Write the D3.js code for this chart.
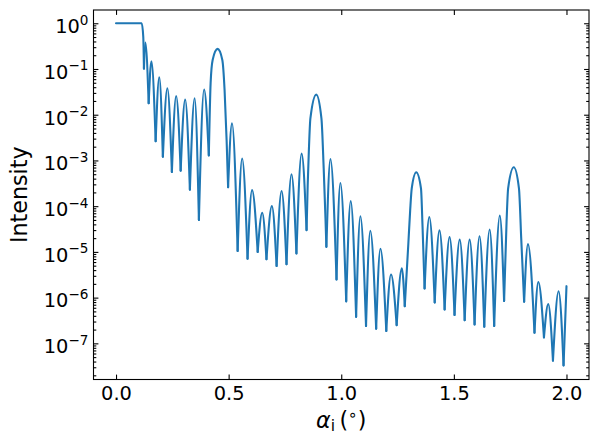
<!DOCTYPE html>
<html>
<head>
<meta charset="utf-8">
<script src="https://cdn.jsdelivr.net/npm/d3@7"></script>
<style>
  body { margin: 0; background: #fff; }
  text { font-family: "DejaVu Sans", sans-serif; fill: #000; }
</style>
</head>
<body>
<svg id="chart"></svg>
<script>
let w = 598;
let h = 444;

// incidence angle (deg) and reflected intensity
let alpha = [
  0.000, 0.114, 0.121, 0.124, 0.130, 0.145, 0.157, 0.176, 0.192, 0.208,
  0.228, 0.248, 0.267, 0.287, 0.307, 0.328, 0.349, 0.368, 0.391, 0.412,
  0.420, 0.429, 0.451, 0.472, 0.482, 0.491, 0.4976, 0.515, 0.540, 0.560,
  0.584, 0.604, 0.629, 0.649, 0.668, 0.692, 0.713, 0.735, 0.757, 0.779,
  0.801, 0.824, 0.846, 0.851, 0.856, 0.863, 0.889, 0.912, 0.922, 0.930,
  0.934, 0.952, 0.979, 0.996, 1.022, 1.042, 1.066, 1.085, 1.110, 1.129,
  1.155, 1.174, 1.200, 1.221, 1.246, 1.269, 1.282, 1.298, 1.306, 1.313,
  1.333, 1.354, 1.361, 1.370, 1.391, 1.415, 1.436, 1.459, 1.481, 1.503,
  1.526, 1.548, 1.570, 1.592, 1.614, 1.635, 1.659, 1.679, 1.704, 1.723,
  1.734, 1.741, 1.766, 1.789, 1.799, 1.812, 1.829, 1.858, 1.875, 1.900,
  1.919, 1.940, 1.965, 1.987, 2.000
];
let intensity = [
  1, 1, 0.5, 0.102, 0.38, 0.0178, 0.148, 0.00263, 0.066, 0.0012,
  0.038, 5.6e-4, 0.0257, 6.0e-4, 0.0214, 2.3e-4, 0.0229, 5.0e-5, 0.0355, 1.29e-3,
  0.049, 0.158, 0.275, 0.158, 0.0347, 2.8e-3, 2.6e-4, 6.5e-3, 1.05e-5, 1.1e-3,
  7.1e-6, 2.24e-4, 1.0e-5, 7.2e-5, 6.9e-6, 1.0e-4, 4.9e-6, 2.14e-4, 5.4e-6, 5.0e-4,
  9.3e-6, 1.41e-3, 3.0e-5, 2.9e-4, 1.55e-3, 8.3e-3, 0.0275, 8.3e-3, 6.8e-4, 5.4e-5,
  1.29e-5, 1.07e-3, 2.5e-6, 3.2e-4, 8.3e-7, 1.29e-4, 3.8e-7, 6.0e-5, 2.4e-7, 2.9e-5,
  2.1e-7, 1.17e-5, 1.86e-7, 3.2e-6, 2.5e-7, 4.4e-6, 6.5e-7, 1.55e-5, 8.1e-5, 2.45e-4,
  5.5e-4, 2.45e-4, 3.5e-5, 1.58e-6, 5.8e-5, 7.8e-7, 2.95e-5, 5.5e-7, 2.1e-5, 4.2e-7,
  1.86e-5, 3.2e-7, 1.86e-5, 2.6e-7, 2.2e-5, 2.3e-7, 3.1e-5, 2.4e-7, 6.2e-5, 8.5e-7,
  4.6e-5, 2.45e-4, 7.1e-4, 2.45e-4, 2.0e-5, 8.1e-7, 1.48e-5, 1.7e-7, 2.2e-6, 1.35e-7,
  7.2e-7, 4.2e-8, 1.38e-6, 3.3e-8, 1.78e-6
];

let xTicks = [0, 0.5, 1.0, 1.5, 2.0];
let yTicks = [1, 1e-1, 1e-2, 1e-3, 1e-4, 1e-5, 1e-6, 1e-7];

let mLeft = 93.5, mRight = 589, mTop = 10, mBottom = 379.5;
let tickFont = 19.4, labelFont = 22.2;

let svg = d3.select("#chart").attr("width", w).attr("height", h);

let xScale = d3.scaleLinear().domain([-0.1, 2.1]).range([mLeft, mRight]);
let yScale = d3.scaleLog().domain([1.62e-8, 1.95]).range([mBottom, mTop]);

// minor ticks 2..9 in every decade inside the view
let yMinor = [];
for (let e = -8; e <= 0; e++) {
  for (let m = 2; m <= 9; m++) {
    let v = m * Math.pow(10, e);
    if (v > yScale.domain()[0] && v < yScale.domain()[1]) yMinor.push(v);
  }
}

function styleAxis(sel) {
  sel.select(".domain").remove();
  sel.selectAll(".tick line").attr("stroke", "#000").attr("stroke-width", 1.1);
  sel.attr("font-size", tickFont).attr("font-family", "DejaVu Sans");
}

// bottom / top
svg.append("g")
  .attr("transform", "translate(0," + mBottom + ")")
  .call(d3.axisBottom(xScale).tickValues(xTicks).tickSize(-4.9).tickPadding(6.5)
    .tickFormat(d3.format(".1f")))
  .call(styleAxis);

svg.append("g")
  .attr("transform", "translate(0," + mTop + ")")
  .call(d3.axisTop(xScale).tickValues(xTicks).tickSize(-4.9).tickFormat(""))
  .call(styleAxis);

// left major with 10^n labels
let yAxisLeft = svg.append("g")
  .attr("transform", "translate(" + mLeft + ",0)")
  .call(d3.axisLeft(yScale).tickValues(yTicks).tickSize(-4.9).tickPadding(5)
    .tickFormat(""))
  .call(styleAxis);

yAxisLeft.selectAll(".tick text").each(function (d) {
  let t = d3.select(this);
  let ex = Math.round(Math.log10(d));
  t.attr("dy", "0.48em");
  t.append("tspan").text("10");
  t.append("tspan")
    .attr("dy", "-0.62em")
    .attr("font-size", "0.7em")
    .text(ex < 0 ? "\u2212" + (-ex) : String(ex));
});

svg.append("g")
  .attr("transform", "translate(" + mLeft + ",0)")
  .call(d3.axisLeft(yScale).tickValues(yMinor).tickSize(-2.8).tickFormat(""))
  .call(styleAxis);

svg.append("g")
  .attr("transform", "translate(" + mRight + ",0)")
  .call(d3.axisRight(yScale).tickValues(yTicks).tickSize(-4.9).tickFormat(""))
  .call(styleAxis);

svg.append("g")
  .attr("transform", "translate(" + mRight + ",0)")
  .call(d3.axisRight(yScale).tickValues(yMinor).tickSize(-2.8).tickFormat(""))
  .call(styleAxis);

// curve: each fringe drawn trough-to-trough so the minima stay sharp
let pts = alpha.map(function (a, i) { return [a, intensity[i]]; });
let cuts = [0];
for (let i = 1; i < pts.length - 1; i++) {
  if (pts[i][1] < pts[i - 1][1] && pts[i][1] < pts[i + 1][1]) cuts.push(i);
}
cuts.push(pts.length - 1);
let arcs = [];
for (let k = 0; k < cuts.length - 1; k++) {
  arcs.push(pts.slice(cuts[k], cuts[k + 1] + 1));
}

let line = d3.line()
  .x(function (d) { return xScale(d[0]); })
  .y(function (d) { return yScale(d[1]); })
  .curve(d3.curveMonotoneX);

svg.append("g")
  .selectAll("path")
  .data(arcs)
  .enter()
  .append("path")
  .attr("d", line)
  .attr("fill", "none")
  .attr("stroke", "#1f77b4")
  .attr("stroke-width", 2.1)
  .attr("stroke-linecap", "round")
  .attr("stroke-linejoin", "round");

// frame
svg.append("rect")
  .attr("x", mLeft)
  .attr("y", mTop)
  .attr("width", mRight - mLeft)
  .attr("height", mBottom - mTop)
  .attr("fill", "none")
  .attr("stroke", "#000")
  .attr("stroke-width", 1.1);

// axis titles
let xl = svg.append("text")
  .attr("x", (mLeft + mRight) / 2)
  .attr("y", 428)
  .attr("text-anchor", "middle")
  .attr("font-size", labelFont);
xl.append("tspan").attr("font-style", "italic").text("\u03b1");
xl.append("tspan").attr("font-size", "0.7em").attr("dy", "0.22em").text("i");
xl.append("tspan").attr("dy", "-0.15em").text("\u2009(");
xl.append("tspan").attr("font-size", "0.7em").attr("dy", "-0.5em").text("\u2218");
xl.append("tspan").attr("dy", "0.35em").text(")");

svg.append("text")
  .attr("transform", "translate(26.5," + (mTop + mBottom) / 2 + ") rotate(-90)")
  .attr("text-anchor", "middle")
  .attr("font-size", labelFont)
  .text("Intensity");
</script>
</body>
</html>
